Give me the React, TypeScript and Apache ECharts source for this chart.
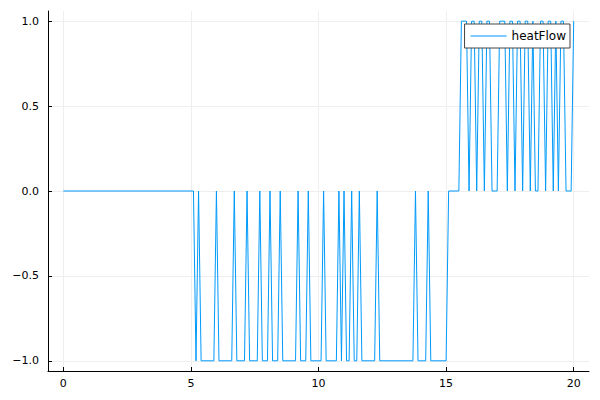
import React, { useEffect, useRef } from "react";
import * as echarts from "echarts";

// corner points of the piecewise-linear heatFlow signal (time, value)
const times: number[] = [
  0, 5.1, 5.2, 5.3, 5.4, 5.9, 6.0, 6.1, 6.6, 6.7, 6.8, 7.1, 7.2, 7.3, 7.6, 7.7, 7.8,
  8.0, 8.1, 8.2, 8.4, 8.5, 8.6, 9.1, 9.2, 9.3, 9.5, 9.6, 9.7, 10.1, 10.2, 10.3,
  10.7, 10.8, 10.9, 11.0, 11.1, 11.2, 11.3, 11.4, 11.5, 11.6, 11.7, 12.2, 12.3,
  12.4, 13.7, 13.8, 13.9, 14.2, 14.3, 14.4, 15.0, 15.1, 15.5, 15.6, 15.8, 15.9,
  16.0, 16.1, 16.2, 16.3, 16.4, 16.5, 16.6, 16.7, 16.8, 17.0, 17.1, 17.3, 17.4,
  17.5, 17.6, 17.7, 17.8, 17.9, 18.0, 18.1, 18.2, 18.3, 18.4, 18.5, 18.6, 18.7,
  18.8, 18.9, 19.0, 19.1, 19.2, 19.3, 19.4, 19.5, 19.6, 19.7, 19.9, 20.0,
];
const heatFlow: number[] = [
  0, 0, -1, 0, -1, -1, 0, -1, -1, 0, -1, -1, 0, -1, -1, 0, -1,
  -1, 0, -1, -1, 0, -1, -1, 0, -1, -1, 0, -1, -1, 0, -1,
  -1, 0, -1, 0, -1, -1, 0, -1, -1, 0, -1, -1, 0,
  -1, -1, 0, -1, -1, 0, -1, -1, 0, 0, 1, 1, 0,
  1, 1, 0, 1, 1, 0, 1, 1, 0, 0, 1, 1, 0,
  1, 1, 0, 1, 1, 0, 1, 1, 0, 1, 0, 0, 1,
  1, 0, 1, 1, 0, 1, 0, 1, 1, 0, 0, 1,
];

const xTicks: number[] = [0, 5, 10, 15, 20];
const yTicks: number[] = [-1, -0.5, 0, 0.5, 1];

const fmtY = (v: number) => v.toFixed(1).replace("-", "\u2212");

export default function App() {
  const ref = useRef<HTMLDivElement>(null);
  useEffect(() => {
    if (!ref.current) return;
    const chart = echarts.init(ref.current, undefined, { renderer: "svg" });
    const font = "DejaVu Sans";
    chart.setOption({
      animation: false,
      backgroundColor: "#ffffff",
      grid: { left: 48, right: 11, top: 11, bottom: 29 },
      legend: {
        right: 30,
        top: 24,
        backgroundColor: "#ffffff",
        borderColor: "#444444",
        borderWidth: 1,
        borderRadius: 0,
        padding: [6, 4, 6, 6],
        itemWidth: 36,
        itemHeight: 1,
        itemGap: 5,
        icon: "rect",
        textStyle: { fontFamily: font, fontSize: 12, color: "#000000" },
        data: ["heatFlow"],
      },
      xAxis: {
        type: "value",
        min: -0.6,
        max: 20.6,
        axisLine: { onZero: false, lineStyle: { color: "#000000", width: 1 } },
        axisTick: {
          inside: true,
          length: 4,
          customValues: xTicks,
          lineStyle: { color: "#000000" },
        },
        axisLabel: {
          customValues: xTicks,
          formatter: (v: number) => String(v),
          fontFamily: font,
          fontSize: 11,
          color: "#000000",
          margin: 7,
        },
        splitLine: { show: true, lineStyle: { color: "#eeeeee", width: 1 } },
      },
      yAxis: {
        type: "value",
        min: -1.06,
        max: 1.06,
        axisLine: { show: true, onZero: false, lineStyle: { color: "#000000", width: 1 } },
        axisTick: {
          show: true,
          inside: true,
          length: 4,
          customValues: yTicks,
          lineStyle: { color: "#000000" },
        },
        axisLabel: {
          customValues: yTicks,
          formatter: fmtY,
          fontFamily: font,
          fontSize: 11,
          color: "#000000",
          margin: 9,
        },
        splitLine: { show: true, lineStyle: { color: "#eeeeee", width: 1 } },
      },
      series: [
        {
          name: "heatFlow",
          type: "line",
          symbol: "none",
          data: times.map((t, i) => [t, heatFlow[i]]),
          lineStyle: { color: "#009AFA", width: 1 },
          itemStyle: { color: "#009AFA" },
        },
      ],
    });
    return () => chart.dispose();
  }, []);
  return (
    <div
      ref={ref}
      style={{ position: "fixed", left: 0, top: 0, width: 600, height: 400 }}
    />
  );
}
